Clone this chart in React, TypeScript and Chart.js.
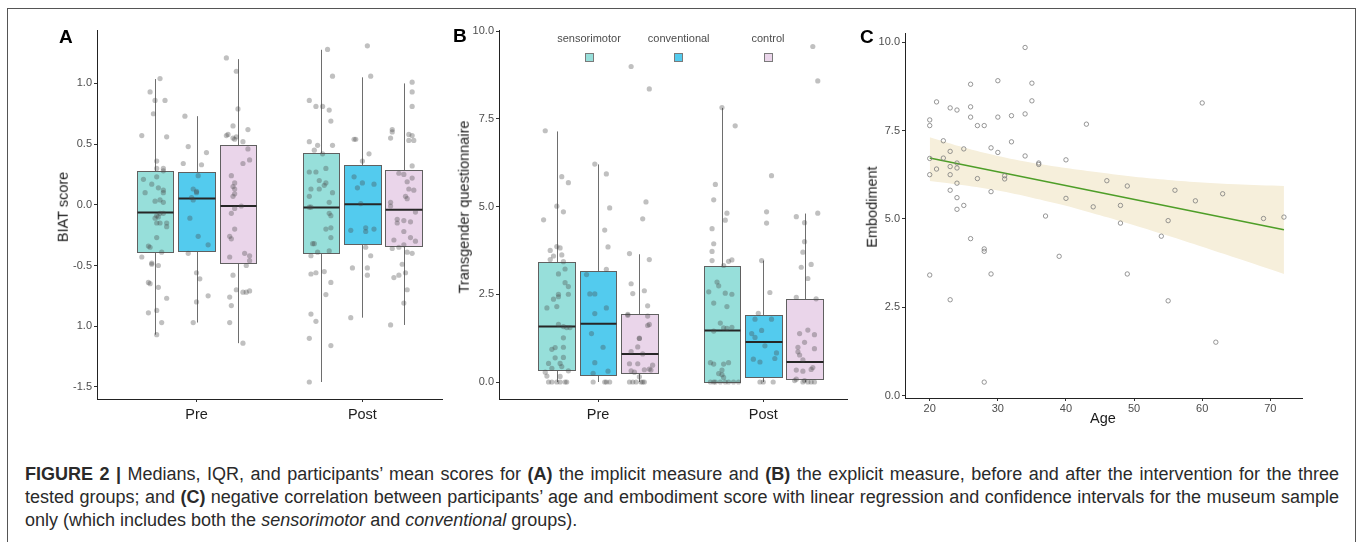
import React, { useEffect, useRef } from "react";
import { Chart, registerables } from "chart.js";

Chart.register(...registerables);

const FONT = '"Liberation Sans", Arial, Helvetica, sans-serif';
Chart.defaults.font.family = FONT;

// ---------- shared categories ----------
const phases = ["Pre", "Post"];
const groupNames = ["sensorimotor", "conventional", "control"];
const groupColors = ["#97DFDA", "#53CBEE", "#EAD5EA"];

// ---------- Panel A: BIAT score ----------
const aTicks = [-1.5, -1, -0.5, 0, 0.5, 1];
const aTickLabels = ["-1.5", "1.0", "-0.5", "0.0", "0.5", "1.0"];
// order: Pre sensorimotor, Pre conventional, Pre control, Post sensorimotor, Post conventional, Post control
const aLow = [-1.07, -0.97, -1.14, -1.46, -0.93, -0.99];
const aQ1 = [-0.387, -0.38, -0.48, -0.40, -0.321, -0.34];
const aMed = [-0.063, 0.052, -0.01, -0.022, 0.005, -0.041];
const aQ3 = [0.28, 0.27, 0.49, 0.423, 0.327, 0.283];
const aHigh = [1.036, 0.73, 1.2, 1.277, 1.05, 1.0];

const aPreSens = [[0.78,1.04],[0.72,0.93],[0.75,0.86],[0.81,0.86],[0.74,0.75],[0.67,0.57],[0.82,0.56],[0.76,0.36],[0.76,0.30],[0.80,0.30],[0.80,0.28],[0.68,0.21],[0.76,0.23],[0.73,0.17],[0.77,0.14],[0.80,0.12],[0.69,0.10],[0.80,0.10],[0.75,0.03],[0.78,0.04],[0.80,0.02],[0.78,-0.07],[0.80,-0.07],[0.76,-0.09],[0.75,-0.11],[0.77,-0.10],[0.82,-0.15],[0.78,-0.15],[0.76,-0.15],[0.82,-0.18],[0.76,-0.27],[0.71,-0.34],[0.72,-0.35],[0.79,-0.39],[0.67,-0.43],[0.73,-0.48],[0.73,-0.49],[0.77,-0.50],[0.71,-0.64],[0.72,-0.65],[0.77,-0.68],[0.82,-0.77],[0.71,-0.89],[0.76,-0.87],[0.79,-0.97],[0.76,-1.07]];
const aPreConv = [[0.93,0.73],[0.95,0.48],[1.06,0.43],[0.92,0.34],[1.03,0.33],[1.01,0.24],[0.98,0.13],[1.00,0.11],[1.00,0.10],[0.97,0.06],[0.98,0.04],[0.96,-0.11],[1.01,-0.26],[1.07,-0.33],[0.95,-0.40],[1.00,-0.56],[1.02,-0.61],[1.07,-0.75],[1.00,-0.80],[0.98,-0.97]];
const aPreCtrl = [[1.18,1.21],[1.24,1.10],[1.25,0.79],[1.22,0.65],[1.31,0.62],[1.19,0.58],[1.18,0.57],[1.22,0.55],[1.23,0.54],[1.24,0.56],[1.28,0.52],[1.31,0.46],[1.32,0.37],[1.28,0.34],[1.21,0.24],[1.23,0.18],[1.22,0.15],[1.23,0.13],[1.23,0.09],[1.22,0.07],[1.23,-0.03],[1.27,-0.01],[1.21,-0.07],[1.23,-0.20],[1.20,-0.26],[1.21,-0.28],[1.29,-0.40],[1.32,-0.42],[1.20,-0.43],[1.32,-0.46],[1.30,-0.50],[1.22,-0.58],[1.24,-0.70],[1.28,-0.72],[1.30,-0.72],[1.32,-0.71],[1.20,-0.76],[1.21,-0.83],[1.20,-0.97],[1.28,-1.14]];
const aPostSens = [[1.79,1.28],[1.82,1.06],[1.68,0.86],[1.72,0.81],[1.76,0.81],[1.80,0.78],[1.81,0.69],[1.68,0.52],[1.73,0.49],[1.82,0.49],[1.71,0.45],[1.76,0.42],[1.68,0.27],[1.72,0.27],[1.78,0.30],[1.74,0.20],[1.78,0.18],[1.77,0.16],[1.69,0.13],[1.74,0.13],[1.68,0.07],[1.82,0.10],[1.80,0.02],[1.68,-0.02],[1.69,-0.02],[1.80,-0.07],[1.81,-0.09],[1.78,-0.20],[1.81,-0.19],[1.81,-0.27],[1.70,-0.32],[1.71,-0.32],[1.73,-0.39],[1.80,-0.38],[1.69,-0.42],[1.69,-0.57],[1.72,-0.56],[1.77,-0.55],[1.81,-0.64],[1.78,-0.74],[1.69,-0.90],[1.72,-0.96],[1.68,-1.10],[1.81,-1.16],[1.68,-1.46]];
const aPostConv = [[2.03,1.31],[2.05,1.06],[1.95,0.54],[1.96,0.54],[2.04,0.42],[2.00,0.36],[1.95,0.23],[2.00,0.18],[2.07,0.17],[1.97,0.14],[1.99,0.01],[1.93,-0.21],[2.02,-0.19],[2.02,-0.22],[2.07,-0.20],[2.02,-0.35],[2.05,-0.42],[1.94,-0.52],[2.03,-0.52],[2.03,-0.58],[1.93,-0.93]];
const aPostCtrl = [[2.30,1.01],[2.30,0.93],[2.30,0.81],[2.18,0.60],[2.18,0.62],[2.17,0.55],[2.28,0.58],[2.30,0.57],[2.28,0.53],[2.31,0.53],[2.30,0.32],[2.22,0.26],[2.25,0.25],[2.30,0.22],[2.27,0.19],[2.28,0.13],[2.31,0.12],[2.26,0.07],[2.27,0.05],[2.17,0.02],[2.17,-0.01],[2.32,-0.06],[2.21,-0.12],[2.21,-0.15],[2.25,-0.13],[2.29,-0.14],[2.25,-0.22],[2.29,-0.27],[2.32,-0.30],[2.19,-0.29],[2.25,-0.33],[2.18,-0.36],[2.22,-0.35],[2.27,-0.39],[2.30,-0.40],[2.24,-0.49],[2.19,-0.60],[2.22,-0.58],[2.26,-0.56],[2.27,-0.70],[2.25,-0.81],[2.17,-0.99]];

// ---------- Panel B: Transgender questionnaire ----------
const bTicks = [0, 2.5, 5, 7.5, 10];
const bTickLabels = ["0.0", "2.5", "5.0", "7.5", "10.0"];
const bLow = [0, 0, 0, 0, 0, 0];
const bQ1 = [0.33, 0.21, 0.25, 0, 0.15, 0.08];
const bMed = [1.58, 1.66, 0.80, 1.47, 1.14, 0.57];
const bQ3 = [3.43, 3.15, 1.95, 3.31, 1.90, 2.37];
const bHigh = [7.14, 6.20, 3.64, 7.81, 3.46, 4.80];

const bPreSens = [[0.68,7.16],[0.78,5.85],[0.82,5.68],[0.75,5.01],[0.79,4.85],[0.67,4.62],[0.71,3.75],[0.75,3.86],[0.77,3.82],[0.73,3.59],[0.78,3.62],[0.71,3.49],[0.79,3.43],[0.80,3.22],[0.76,3.08],[0.80,2.83],[0.82,2.72],[0.76,2.50],[0.76,2.43],[0.82,2.50],[0.73,2.36],[0.69,2.11],[0.75,2.15],[0.76,1.64],[0.79,1.58],[0.81,1.55],[0.83,1.55],[0.79,1.26],[0.79,0.99],[0.72,0.93],[0.74,0.98],[0.79,0.70],[0.74,0.69],[0.70,0.53],[0.77,0.53],[0.78,0.44],[0.72,0.39],[0.82,0.32],[0.68,0.28],[0.69,0.17],[0.77,0.16],[0.70,0],[0.72,0],[0.75,0],[0.77,0],[0.80,0],[0.81,0]];
const bPreConv = [[0.98,6.21],[1.05,5.93],[1.07,4.96],[1.04,4.33],[1.06,3.85],[1.05,3.21],[0.93,3.06],[0.95,2.51],[0.98,2.51],[1.05,2.11],[0.98,1.95],[0.96,1.38],[1.03,0.99],[0.98,0.55],[0.97,0.25],[1.06,0.31],[0.97,0],[1.04,0],[1.05,0],[1.07,0]];
const bPreCtrl = [[1.20,8.99],[1.31,8.35],[1.29,5.13],[1.27,4.65],[1.19,3.66],[1.31,3.49],[1.20,2.80],[1.21,2.52],[1.28,2.60],[1.30,2.17],[1.18,1.93],[1.18,1.90],[1.30,1.88],[1.31,1.64],[1.30,1.61],[1.25,1.25],[1.25,1.24],[1.24,1.00],[1.20,0.87],[1.27,0.80],[1.19,0.52],[1.24,0.52],[1.33,0.48],[1.31,0.37],[1.32,0.34],[1.20,0.32],[1.22,0.28],[1.28,0.35],[1.25,0.15],[1.19,0],[1.21,0],[1.23,0],[1.26,0],[1.27,0],[1.28,0]];
const bPostSens = [[1.75,7.82],[1.83,7.30],[1.71,5.63],[1.70,5.19],[1.78,4.81],[1.77,4.61],[1.69,4.37],[1.70,3.94],[1.69,3.72],[1.69,3.46],[1.76,3.32],[1.79,3.44],[1.81,3.48],[1.72,2.85],[1.73,2.74],[1.67,2.57],[1.77,2.53],[1.81,2.50],[1.70,2.25],[1.78,2.15],[1.74,1.68],[1.76,1.54],[1.81,1.56],[1.78,1.53],[1.70,1.45],[1.68,0.55],[1.70,0.51],[1.79,0.55],[1.76,0.51],[1.73,0.24],[1.75,0.34],[1.75,0.21],[1.76,0.13],[1.68,0],[1.70,0],[1.71,0],[1.74,0],[1.77,0],[1.79,0],[1.82,0],[1.85,0]];
const bPostConv = [[2.05,5.88],[2.02,4.85],[2.02,4.53],[1.99,3.46],[2.04,2.55],[1.97,1.96],[1.95,1.79],[2.05,1.79],[1.99,1.47],[1.93,1.38],[1.95,1.27],[2.01,1.03],[2.08,0.83],[1.94,0.65],[2.07,0.67],[1.98,0.57],[1.98,0],[2.00,0],[2.06,0]];
const bPostCtrl = [[2.30,9.56],[2.33,8.58],[2.20,4.71],[2.33,4.81],[2.25,4.54],[2.25,4.00],[2.24,3.70],[2.23,3.27],[2.29,3.35],[2.27,2.95],[2.20,2.41],[2.32,2.37],[2.27,1.48],[2.22,1.38],[2.25,1.13],[2.31,1.35],[2.21,0.99],[2.21,0.86],[2.22,0.77],[2.31,0.95],[2.24,0.63],[2.20,0.34],[2.29,0.36],[2.30,0.41],[2.24,0.31],[2.19,0.04],[2.20,0.08],[2.24,0],[2.25,0.04],[2.27,0],[2.29,0],[2.31,0]];

// ---------- Panel C: Embodiment vs Age ----------
const cXTicks = [20, 30, 40, 50, 60, 70];
const cYTicks = [0, 2.5, 5, 7.5, 10];
const cYTickLabels = ["0.0", "2.5", "5.0", "7.5", "10.0"];
const cAge = [20,20,20,20,20,21,21,22,22,23,23,23,23,23,23,24,24,24,24,24,24,25,25,26,26,26,26,27,27,28,28,28,28,29,29,29,30,30,30,31,31,32,32,34,34,34,35,35,36,36,37,39,40,40,43,44,46,48,48,49,49,54,55,55,56,59,60,62,63,69,72];
const cEmb = [7.80,7.64,6.71,6.25,3.41,8.31,6.41,7.21,6.72,8.14,6.91,6.48,6.25,5.81,2.71,8.08,6.58,6.44,6.01,5.60,5.27,6.98,5.38,8.81,8.17,7.88,4.44,7.64,6.14,7.64,4.15,4.08,0.38,7.01,5.77,3.44,8.91,7.88,6.88,6.22,6.13,7.92,7.18,9.85,7.97,6.78,8.84,8.34,6.58,6.54,5.08,3.94,6.67,5.58,7.68,5.34,6.08,5.38,4.88,5.93,3.44,4.51,4.95,2.68,5.81,5.51,8.28,1.51,5.71,5.01,5.05];
const cFitAge = [20, 72];
const cFit = [6.72, 4.69];
const cBandAge = [20, 25, 30, 35, 40, 45, 50, 55, 60, 65, 72];
const cUpper = [7.31, 7.02, 6.78, 6.59, 6.44, 6.31, 6.19, 6.10, 6.03, 5.98, 5.93];
const cLower = [6.07, 5.95, 5.80, 5.60, 5.37, 5.10, 4.82, 4.52, 4.21, 3.89, 3.44];

// ---------- helpers ----------
const DODGE = 0.25;
const BOX_W = 0.222;

function groupCenter(i: number) {
  const phase = Math.floor(i / 3);
  const g = i % 3;
  return phase + 1 + (g - 1) * DODGE;
}

function boxPlugin(low: number[], q1: number[], med: number[], q3: number[], high: number[]) {
  return {
    id: "boxes",
    beforeDatasetsDraw(chart: any) {
      const { ctx } = chart;
      const x = chart.scales.x;
      const y = chart.scales.y;
      ctx.save();
      for (let i = 0; i < q1.length; i++) {
        const c = groupCenter(i);
        const xl = Math.round(x.getPixelForValue(c - BOX_W / 2)) + 0.5;
        const xr = Math.round(x.getPixelForValue(c + BOX_W / 2)) + 0.5;
        const xc = Math.round(x.getPixelForValue(c)) + 0.5;
        const yLo = y.getPixelForValue(low[i]);
        const yQ1 = Math.round(y.getPixelForValue(q1[i])) + 0.5;
        const yMd = y.getPixelForValue(med[i]);
        const yQ3 = Math.round(y.getPixelForValue(q3[i])) + 0.5;
        const yHi = y.getPixelForValue(high[i]);
        ctx.lineWidth = 1;
        ctx.strokeStyle = "#6e6e6e";
        ctx.beginPath();
        ctx.moveTo(xc, yHi);
        ctx.lineTo(xc, yQ3);
        ctx.moveTo(xc, yQ1);
        ctx.lineTo(xc, yLo);
        ctx.stroke();
        ctx.fillStyle = groupColors[i % 3];
        ctx.fillRect(xl, yQ3, xr - xl, yQ1 - yQ3);
        ctx.strokeStyle = "#606060";
        ctx.strokeRect(xl, yQ3, xr - xl, yQ1 - yQ3);
        ctx.strokeStyle = "#262626";
        ctx.lineWidth = 2;
        ctx.beginPath();
        ctx.moveTo(xl, yMd);
        ctx.lineTo(xr, yMd);
        ctx.stroke();
      }
      ctx.restore();
    },
  };
}

function axisGrid() {
  return { drawOnChartArea: false, drawTicks: true, tickLength: 3, color: "#333333", lineWidth: 1 };
}

function boxConfig(o: any) {
  return {
    type: "scatter",
    data: {
      datasets: o.points.map((arr: number[][]) => ({
        data: arr.map(([x, y]) => ({ x, y })),
        pointRadius: 2.6,
        pointHoverRadius: 0,
        backgroundColor: "rgba(70,70,70,0.34)",
        pointBackgroundColor: "rgba(70,70,70,0.34)",
        pointBorderWidth: 0,
        borderWidth: 0,
      })),
    },
    options: {
      animation: false,
      responsive: false,
      events: [],
      layout: { padding: { top: o.padTop, right: o.padRight, left: 0, bottom: 0 } },
      plugins: { legend: { display: false }, tooltip: { enabled: false } },
      scales: {
        x: {
          type: "linear",
          min: o.xMin,
          max: o.xMax,
          afterBuildTicks: (s: any) => {
            s.ticks = [1, 2].map((v) => ({ value: v }));
          },
          afterFit: (s: any) => {
            s.height = o.xAxisH;
          },
          ticks: {
            autoSkip: false,
            maxRotation: 0,
            callback: (_v: any, i: number) => phases[i],
            color: "#1e1e1e",
            font: { size: 14.5 },
            padding: 4,
          },
          grid: axisGrid(),
          border: { display: true, color: "#222222", width: 1 },
        },
        y: {
          type: "linear",
          min: o.yMin,
          max: o.yMax,
          afterBuildTicks: (s: any) => {
            s.ticks = o.yTicks.map((v: number) => ({ value: v }));
          },
          afterFit: (s: any) => {
            s.width = o.yAxisW;
          },
          ticks: {
            autoSkip: false,
            callback: (_v: any, i: number) => o.yLabels[i],
            color: "#4d4d4d",
            font: { size: 11 },
            padding: 2,
          },
          grid: axisGrid(),
          border: { display: true, color: "#222222", width: 1 },
        },
      },
    },
    plugins: [boxPlugin(o.low, o.q1, o.med, o.q3, o.high)],
  };
}

function scatterConfig() {
  return {
    type: "scatter",
    data: {
      datasets: [
        {
          type: "scatter",
          data: cAge.map((a, i) => ({ x: a, y: cEmb[i] })),
          pointRadius: 2.2,
          pointHoverRadius: 0,
          pointBorderWidth: 1,
          pointBorderColor: "rgba(125,125,125,0.8)",
          pointBackgroundColor: "rgba(0,0,0,0)",
          borderColor: "rgba(125,125,125,0.8)",
          backgroundColor: "rgba(0,0,0,0)",
        },
        {
          type: "line",
          data: cFitAge.map((a, i) => ({ x: a, y: cFit[i] })),
          borderColor: "#4E9E28",
          borderWidth: 1.6,
          pointRadius: 0,
          fill: false,
        },
        {
          type: "line",
          data: cBandAge.map((a, i) => ({ x: a, y: cUpper[i] })),
          borderWidth: 0,
          borderColor: "rgba(0,0,0,0)",
          pointRadius: 0,
          backgroundColor: "#F6EFDB",
          fill: "+1",
          tension: 0.3,
        },
        {
          type: "line",
          data: cBandAge.map((a, i) => ({ x: a, y: cLower[i] })),
          borderWidth: 0,
          borderColor: "rgba(0,0,0,0)",
          pointRadius: 0,
          fill: false,
          tension: 0.3,
        },
      ],
    },
    options: {
      animation: false,
      responsive: false,
      events: [],
      layout: { padding: { top: 33, right: 55, left: 0, bottom: 0 } },
      plugins: { legend: { display: false }, tooltip: { enabled: false } },
      scales: {
        x: {
          type: "linear",
          min: 16.37,
          max: 74.65,
          afterBuildTicks: (s: any) => {
            s.ticks = cXTicks.map((v) => ({ value: v }));
          },
          afterFit: (s: any) => {
            s.height = 42;
          },
          ticks: { autoSkip: false, maxRotation: 0, color: "#4d4d4d", font: { size: 11 }, padding: 1 },
          grid: axisGrid(),
          border: { display: true, color: "#222222", width: 1 },
        },
        y: {
          type: "linear",
          min: -0.07,
          max: 10.26,
          afterBuildTicks: (s: any) => {
            s.ticks = cYTicks.map((v) => ({ value: v }));
          },
          afterFit: (s: any) => {
            s.width = 55;
          },
          ticks: {
            autoSkip: false,
            callback: (_v: any, i: number) => cYTickLabels[i],
            color: "#4d4d4d",
            font: { size: 11 },
            padding: 2,
          },
          grid: axisGrid(),
          border: { display: true, color: "#222222", width: 1 },
        },
      },
    },
  };
}

function ChartCanvas(props: { left: number; top: number; width: number; height: number; make: () => any }) {
  const ref = useRef<HTMLCanvasElement>(null);
  useEffect(() => {
    const chart = new Chart(ref.current as HTMLCanvasElement, props.make());
    return () => chart.destroy();
  }, []);
  return (
    <canvas
      ref={ref}
      width={props.width}
      height={props.height}
      style={{ position: "absolute", left: props.left, top: props.top, width: props.width, height: props.height }}
    />
  );
}

const abs = (style: any): any => ({ position: "absolute", whiteSpace: "nowrap", fontFamily: FONT, ...style });

function VTitle(props: { text: string; cx: number; cy: number }) {
  return (
    <div
      style={abs({
        left: props.cx,
        top: props.cy,
        fontSize: 14.5,
        lineHeight: "14.5px",
        color: "#1a1a1a",
        transform: "translate(-50%, -50%) rotate(-90deg)",
      })}
    >
      {props.text}
    </div>
  );
}

export default function App() {
  const legendX = [589, 678.7, 768];
  return (
    <div
      style={{
        position: "absolute",
        left: 0,
        top: 0,
        width: 1357,
        height: 542,
        overflow: "hidden",
        background: "#ffffff",
        fontFamily: FONT,
      }}
    >
      <div
        style={{
          position: "absolute",
          left: 7,
          top: 8,
          width: 1349,
          height: 600,
          boxSizing: "border-box",
          border: "1.5px solid #555555",
        }}
      />
      <ChartCanvas
        left={0}
        top={0}
        width={450}
        height={440}
        make={() =>
          boxConfig({
            points: [aPreSens, aPreConv, aPreCtrl, aPostSens, aPostConv, aPostCtrl],
            low: aLow, q1: aQ1, med: aMed, q3: aQ3, high: aHigh,
            xMin: 0.4, xMax: 2.48, yMin: -1.6, yMax: 1.44,
            yTicks: aTicks, yLabels: aTickLabels,
            yAxisW: 97, xAxisH: 41, padTop: 30, padRight: 8,
          })
        }
      />
      <ChartCanvas
        left={440}
        top={0}
        width={420}
        height={440}
        make={() =>
          boxConfig({
            points: [bPreSens, bPreConv, bPreCtrl, bPostSens, bPostConv, bPostCtrl],
            low: bLow, q1: bQ1, med: bMed, q3: bQ3, high: bHigh,
            xMin: 0.4, xMax: 2.507, yMin: -0.484, yMax: 10.03,
            yTicks: bTicks, yLabels: bTickLabels,
            yAxisW: 59, xAxisH: 41, padTop: 30, padRight: 13,
          })
        }
      />
      <ChartCanvas left={850} top={0} width={507} height={440} make={scatterConfig} />

      {/* panel letters */}
      <div style={abs({ left: 59, top: 27, fontSize: 19, lineHeight: "19px", fontWeight: 700, color: "#000" })}>A</div>
      <div style={abs({ left: 453, top: 26, fontSize: 19, lineHeight: "19px", fontWeight: 700, color: "#000" })}>B</div>
      <div style={abs({ left: 860, top: 27, fontSize: 19, lineHeight: "19px", fontWeight: 700, color: "#000" })}>C</div>

      {/* axis titles */}
      <VTitle text="BIAT score" cx={62.8} cy={206.5} />
      <VTitle text="Transgender questionnaire" cx={464.2} cy={206.7} />
      <VTitle text="Embodiment" cx={872} cy={206.7} />
      <div
        style={abs({
          left: 1103,
          top: 417.5,
          fontSize: 14.5,
          lineHeight: "14.5px",
          color: "#1a1a1a",
          transform: "translate(-50%, -50%)",
        })}
      >
        Age
      </div>

      {/* legend for panel B */}
      {groupNames.map((g, i) => (
        <React.Fragment key={g}>
          <div
            style={abs({
              left: legendX[i],
              top: 37.7,
              fontSize: 11,
              lineHeight: "11px",
              color: "#4d4d4d",
              transform: "translate(-50%, -50%)",
            })}
          >
            {g}
          </div>
          <div
            style={{
              position: "absolute",
              left: legendX[i] - 4.5,
              top: 52.5,
              width: 9,
              height: 9,
              boxSizing: "border-box",
              border: "1px solid #7a7a7a",
              background: groupColors[i],
            }}
          />
        </React.Fragment>
      ))}

      {/* caption */}
      <div
        style={{
          position: "absolute",
          left: 25,
          top: 463,
          width: 1314,
          fontFamily: FONT,
          fontSize: 18,
          lineHeight: "23px",
          color: "#2a2a2a",
        }}
      >
        <div style={{ textAlign: "justify", textAlignLast: "justify" } as any}>
          <b>FIGURE 2 |</b> Medians, IQR, and participants’ mean scores for <b>(A)</b> the implicit measure and{" "}
          <b>(B)</b> the explicit measure, before and after the intervention for the three
        </div>
        <div style={{ textAlign: "justify", textAlignLast: "justify" } as any}>
          tested groups; and <b>(C)</b> negative correlation between participants’ age and embodiment score with linear
          regression and confidence intervals for the museum sample
        </div>
        <div>
          only (which includes both the <i>sensorimotor</i> and <i>conventional</i> groups).
        </div>
      </div>
    </div>
  );
}
